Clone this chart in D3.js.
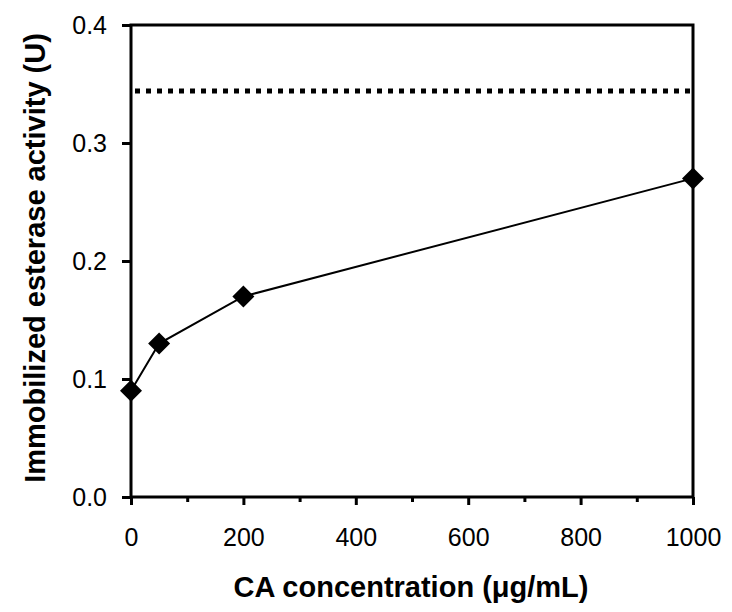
<!DOCTYPE html>
<html>
<head>
<meta charset="utf-8">
<script src="https://cdn.jsdelivr.net/npm/d3@7"></script>
<style>
  body { margin: 0; background: #fff; }
  svg { display: block; font-family: "Liberation Sans", Arial, sans-serif; }
</style>
</head>
<body>
<svg id="chart" width="732" height="612"></svg>
<script>
// data
const concentrations = [0, 50, 200, 1000]
const activities = [0.09, 0.13, 0.17, 0.27]
const referenceActivity = 0.344

const xMajorTicks = [0, 200, 400, 600, 800, 1000]
const xMinorTicks = [100, 300, 500, 700, 900]
const yTicks = [0, 0.1, 0.2, 0.3, 0.4]

const xLabel = 'CA concentration (μg/mL)'
const yLabel = 'Immobilized esterase activity (U)'

const plotLeft = 131
const plotRight = 693
const plotTop = 25
const plotBottom = 497

const svg = d3.select('#chart')

const x = d3.scaleLinear()
    .domain([0, 1000])
    .range([plotLeft, plotRight])

const y = d3.scaleLinear()
    .domain([0, 0.4])
    .range([plotBottom, plotTop])

// frame
svg.append('rect')
    .attr('x', plotLeft)
    .attr('y', plotTop)
    .attr('width', plotRight - plotLeft)
    .attr('height', plotBottom - plotTop)
    .attr('fill', 'none')
    .attr('stroke', '#000')
    .attr('stroke-width', 3)

// y axis
const yAxis = svg.append('g')
    .attr('transform', `translate(${plotLeft},0)`)
    .call(d3.axisLeft(y)
        .tickValues(yTicks)
        .tickFormat(d3.format('.1f'))
        .tickSize(9)
        .tickPadding(15))

yAxis.select('.domain').remove()
yAxis.selectAll('line').attr('stroke-width', 3)
yAxis.selectAll('text')
    .attr('font-size', 25)
    .attr('fill', '#000')
    .attr('font-family', '"Liberation Sans", Arial, sans-serif')

// x axis, major ticks with labels
const xAxis = svg.append('g')
    .attr('transform', `translate(0,${plotBottom})`)
    .call(d3.axisBottom(x)
        .tickValues(xMajorTicks)
        .tickFormat(d3.format('d'))
        .tickSize(8)
        .tickPadding(23))

xAxis.select('.domain').remove()
xAxis.selectAll('line').attr('stroke-width', 3)
xAxis.selectAll('text')
    .attr('font-size', 25)
    .attr('fill', '#000')
    .attr('font-family', '"Liberation Sans", Arial, sans-serif')

// x axis, minor ticks
const xMinor = svg.append('g')
    .attr('transform', `translate(0,${plotBottom})`)
    .call(d3.axisBottom(x)
        .tickValues(xMinorTicks)
        .tickFormat('')
        .tickSize(5))

xMinor.select('.domain').remove()
xMinor.selectAll('line').attr('stroke-width', 3)

// dotted reference line
svg.append('line')
    .attr('x1', x(0) + 4)
    .attr('x2', x(1000) - 3)
    .attr('y1', y(referenceActivity))
    .attr('y2', y(referenceActivity))
    .attr('stroke', '#000')
    .attr('stroke-width', 5)
    .attr('stroke-dasharray', '5,6')

// series
const points = concentrations.map((c, i) => [c, activities[i]])

svg.append('path')
    .datum(points)
    .attr('fill', 'none')
    .attr('stroke', '#000')
    .attr('stroke-width', 2)
    .attr('d', d3.line()
        .x(d => x(d[0]))
        .y(d => y(d[1])))

svg.selectAll('.marker')
    .data(points)
    .join('path')
    .attr('class', 'marker')
    .attr('transform', d => `translate(${x(d[0])},${y(d[1])})`)
    .attr('d', 'M0,-11L11,0L0,11L-11,0Z')
    .attr('fill', '#000')

// axis titles
svg.append('text')
    .attr('x', 411)
    .attr('y', 597)
    .attr('text-anchor', 'middle')
    .attr('font-size', 29)
    .attr('font-weight', 'bold')
    .text(xLabel)

svg.append('text')
    .attr('transform', 'translate(45,258) rotate(-90)')
    .attr('text-anchor', 'middle')
    .attr('font-size', 29)
    .attr('font-weight', 'bold')
    .text(yLabel)
</script>
</body>
</html>
